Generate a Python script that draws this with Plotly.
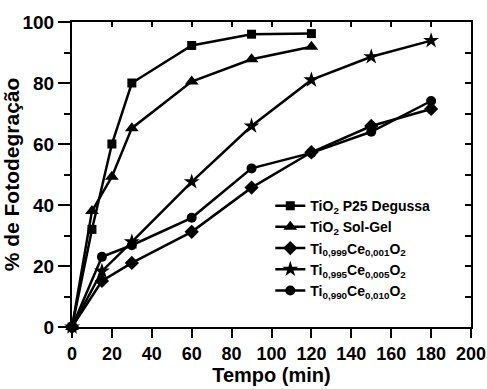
import plotly.graph_objects as go

# Data
tempo_tio2 = [0, 10, 20, 30, 60, 90, 120]
tempo_ce = [0, 15, 30, 60, 90, 120, 150, 180]

p25_degussa = [0, 32, 60, 80, 92.3, 96, 96.2]
sol_gel = [0, 38, 49.3, 65.2, 80.5, 87.8, 91.9]
ce_0001 = [0, 15.1, 21, 31.2, 45.7, 57.3, 65.9, 71.5]
ce_0005 = [0, 18.3, 27.9, 47.6, 65.9, 81, 88.6, 93.9]
ce_0010 = [0, 23, 26.8, 35.8, 52, 57.1, 64, 74.1]

names = [
    "TiO<sub>2</sub> P25 Degussa",
    "TiO<sub>2</sub> Sol-Gel",
    "Ti<sub>0,999</sub>Ce<sub>0,001</sub>O<sub>2</sub>",
    "Ti<sub>0,995</sub>Ce<sub>0,005</sub>O<sub>2</sub>",
    "Ti<sub>0,990</sub>Ce<sub>0,010</sub>O<sub>2</sub>",
]
x_ticks = list(range(0, 201, 20))
y_ticks = list(range(0, 101, 20))

FONT = "Liberation Sans, Arial, sans-serif"
NARROW = "Liberation Sans Narrow, Arial Narrow, Liberation Sans, sans-serif"

series = [
    (tempo_tio2, p25_degussa, names[0], "square", 9),
    (tempo_tio2, sol_gel, names[1], "triangle-up", 12),
    (tempo_ce, ce_0001, names[2], "diamond", 11),
    (tempo_ce, ce_0005, names[3], "star", 12),
    (tempo_ce, ce_0010, names[4], "circle", 10),
]

fig = go.Figure()
for xs, ys, nm, sym, sz in series:
    fig.add_trace(go.Scatter(
        x=xs, y=ys, name=nm, mode="lines+markers",
        line=dict(color="black", width=2.5),
        marker=dict(symbol=sym, size=sz, color="black"),
        cliponaxis=False,
    ))

# helper trace for mirrored inner ticks (top/right)
fig.add_trace(go.Scatter(x=[None], y=[None], xaxis="x2", yaxis="y2",
                         showlegend=False, hoverinfo="skip"))

fig.update_layout(
    width=487, height=389,
    margin=dict(l=72, r=16, t=22, b=62),
    paper_bgcolor="white", plot_bgcolor="white",
    font=dict(family=FONT, color="black", weight="bold"),
    showlegend=True,
    legend=dict(
        x=0.497, y=0.449, xanchor="left", yanchor="top",
        bgcolor="rgba(0,0,0,0)", borderwidth=0,
        font=dict(family=FONT, size=14, color="black", weight="bold"),
        tracegroupgap=0, itemwidth=30,
    ),
    xaxis=dict(
        range=[0, 200], tickvals=x_ticks, ticktext=[str(v) for v in x_ticks],
        showgrid=False, zeroline=False, automargin=False,
        showline=True, linecolor="black", linewidth=2, mirror=True,
        ticks="outside", ticklen=9, tickwidth=2, tickcolor="black",
        tickfont=dict(family=FONT, size=18, color="black", weight="bold"),
        title=dict(text="Tempo (min)", standoff=1,
                   font=dict(family=FONT, size=20, color="black", weight="bold")),
    ),
    yaxis=dict(
        range=[0, 100], tickvals=y_ticks, ticktext=[str(v) for v in y_ticks],
        showgrid=False, zeroline=False, automargin=False,
        showline=True, linecolor="black", linewidth=2, mirror=True,
        ticks="outside", ticklen=12, tickwidth=2, tickcolor="black",
        minor=dict(dtick=10, tick0=0, ticks="outside", ticklen=6, tickwidth=2, tickcolor="black"),
        tickfont=dict(family=NARROW, size=19, color="black", weight="bold"),
        title=dict(text="% de Fotodegração", standoff=1,
                   font=dict(family=FONT, size=21, color="black", weight="bold")),
    ),
    xaxis2=dict(
        overlaying="x", side="top", range=[0, 200], dtick=20, tick0=0,
        ticks="inside", ticklen=5, tickwidth=2, tickcolor="black",
        showticklabels=False, showgrid=False, zeroline=False, showline=False,
    ),
    yaxis2=dict(
        overlaying="y", side="right", range=[0, 100], dtick=10, tick0=0,
        ticks="inside", ticklen=6, tickwidth=2, tickcolor="black",
        showticklabels=False, showgrid=False, zeroline=False, showline=False,
    ),
)

fig.write_html(
    "out.html",
    config={"displayModeBar": False},
    post_script="document.body.style.margin='0';document.body.style.overflow='hidden';",
)
